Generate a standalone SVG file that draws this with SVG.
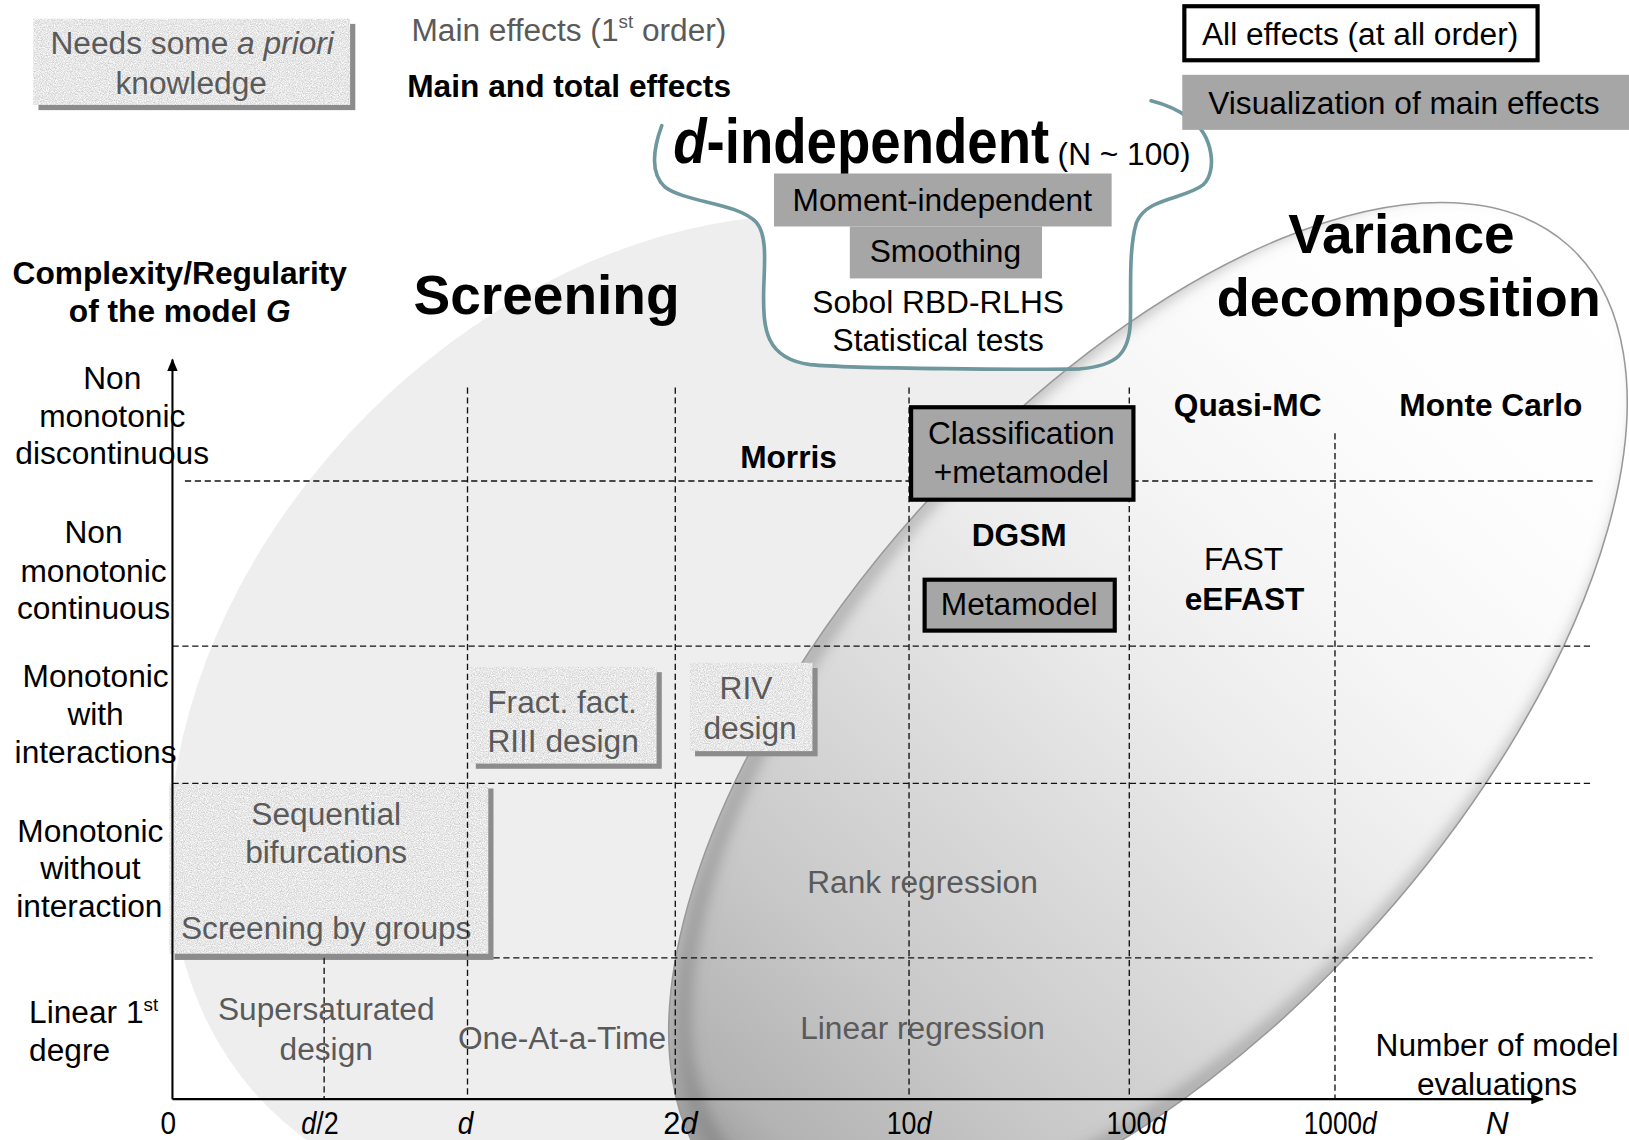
<svg xmlns="http://www.w3.org/2000/svg" width="1629" height="1140" viewBox="0 0 1629 1140">
<style>
text { font-family: "Liberation Sans", Arial, Helvetica, sans-serif; font-size: 30.5px; fill: #000; }
.m { text-anchor: middle; }
.g { fill: #5a5a5a; }
.b { font-weight: bold; }
.i { font-style: italic; }
.s60 { font-size: 60px; }
.s53 { font-size: 53px; }
.s52 { font-size: 52px; }
.sup { font-size: 18px; }
.tick { font-size: 31px; }
.grid { fill: none; stroke: #111; stroke-width: 1.3; stroke-dasharray: 6 3.5; }
.axis { fill: none; stroke: #000; stroke-width: 2; }
.gbox { fill: #a6a6a6; }
.kbox { stroke: #000; stroke-width: 4; }
.shadow { fill: #8c8c8c; }
.tex { fill: #e4e4e4; }
.brace { fill: none; stroke: #6e989e; stroke-width: 3.5; stroke-linecap: round; }
</style>
<defs>
  <filter id="paper" x="0" y="0" width="1" height="1" color-interpolation-filters="sRGB">
    <feTurbulence type="fractalNoise" baseFrequency="0.9" numOctaves="2" seed="7" result="n"/>
    <feColorMatrix in="n" type="matrix" values="0.35 0 0 0 0.73  0.35 0 0 0 0.73  0.35 0 0 0 0.73  0 0 0 0 1" result="gr"/>
    <feComposite in="gr" in2="SourceGraphic" operator="in"/>
  </filter>
  <filter id="soft" x="-20%" y="-20%" width="140%" height="140%">
    <feGaussianBlur stdDeviation="7"/>
  </filter>
  <linearGradient id="vgrad" gradientUnits="userSpaceOnUse" x1="-608" y1="0" x2="608" y2="0">
    <stop offset="0" stop-color="#999999"/>
    <stop offset="0.06" stop-color="#b3b3b3"/>
    <stop offset="0.2" stop-color="#c8c8c8"/>
    <stop offset="0.3" stop-color="#d3d3d3"/>
    <stop offset="0.53" stop-color="#ececec"/>
    <stop offset="0.65" stop-color="#f5f5f5"/>
    <stop offset="0.82" stop-color="#fdfdfd"/>
    <stop offset="1" stop-color="#ffffff"/>
  </linearGradient>
  <clipPath id="vclip">
    <ellipse cx="0" cy="0" rx="608" ry="297" transform="translate(1105 690) rotate(-48.3)"/>
  </clipPath>
  <marker id="arr" viewBox="0 0 12 10" refX="11" refY="5" markerWidth="12" markerHeight="10" markerUnits="userSpaceOnUse" orient="auto">
    <path d="M0,0 L12,5 L0,10 Z" fill="#000"/>
  </marker>
</defs>
<rect width="1629" height="1140" fill="#fff"/>
<g transform="scale(1.0389)">
  <!-- background regions -->
  <g id="screening-region">
    <ellipse cx="0" cy="0" rx="540" ry="404" transform="translate(640 684) rotate(-45)" fill="#eeeeee"/>
  </g>
  <g id="d-independent-fill">
    <path d="M 637 121 C 630 140, 624 165, 640 180 C 660 195, 710 195, 728 214 C 740 228, 735 260, 735 285 C 735 315, 736 345, 780 351 C 820 355, 1000 356, 1040 355 C 1075 352, 1087 340, 1088 310 C 1089 280, 1086 240, 1094 214 C 1104 190, 1140 192, 1158 178 C 1172 165, 1168 130, 1145 114 C 1132 104, 1120 100, 1108 97 Z" fill="#fff"/>
  </g>
  <g id="variance-region">
    <ellipse cx="0" cy="0" rx="608" ry="297" transform="translate(1105 690) rotate(-48.3)" fill="url(#vgrad)"/>
    <g clip-path="url(#vclip)">
      <ellipse cx="0" cy="0" rx="608" ry="297" transform="translate(1119 676) rotate(-48.3)" fill="none" stroke="#6a6a6a" stroke-width="12" stroke-opacity="0.5" filter="url(#soft)"/>
    </g>
    <ellipse cx="0" cy="0" rx="608" ry="297" transform="translate(1105 690) rotate(-48.3)" fill="none" stroke="#999999" stroke-width="1.5"/>
  </g>
  <g id="d-independent-brace">
    <path class="brace" d="M 637 121 C 630 140, 624 165, 640 180 C 660 195, 710 195, 728 214 C 740 228, 735 260, 735 285 C 735 315, 736 345, 780 351 C 820 355, 1000 356, 1040 355 C 1075 352, 1087 340, 1088 310 C 1089 280, 1086 240, 1094 214 C 1104 190, 1140 192, 1158 178 C 1172 165, 1168 130, 1145 114 C 1132 104, 1120 100, 1108 97"/>
  </g>

  <!-- textured (a priori) boxes -->
  <g id="needs-apriori">
    <rect class="shadow" x="37" y="23" width="305" height="83"/>
    <rect class="tex" x="32" y="18" width="305" height="83" filter="url(#paper)"/>
    <text class="m g" x="185" y="52">Needs some <tspan class="i">a priori</tspan></text>
    <text class="m g" x="184" y="90">knowledge</text>
  </g>
  <g id="fract-fact">
    <rect class="shadow" x="458" y="647" width="179" height="93"/>
    <rect class="tex" x="453" y="642" width="179" height="93" filter="url(#paper)"/>
    <text class="m g" x="541" y="686">Fract. fact.</text>
    <text class="m g" x="542" y="724">RIII design</text>
  </g>
  <g id="riv-design">
    <rect class="shadow" x="669" y="643" width="118" height="85"/>
    <rect class="tex" x="664" y="638" width="118" height="85" filter="url(#paper)"/>
    <text class="m g" x="718" y="673">RIV</text>
    <text class="m g" x="722" y="711">design</text>
  </g>
  <g id="sequential">
    <rect class="shadow" x="168" y="759" width="307" height="165"/>
    <rect class="tex" x="163" y="754" width="307" height="164" filter="url(#paper)"/>
    <text class="m g" x="314" y="794">Sequential</text>
    <text class="m g" x="314" y="831">bifurcations</text>
    <text class="m g" x="314" y="904">Screening by groups</text>
  </g>

  <!-- connectors: grid and axes -->
  <g id="connectors">
    <line class="grid" x1="312" y1="922" x2="312" y2="1058"/>
    <line class="grid" x1="450" y1="373" x2="450" y2="1058"/>
    <line class="grid" x1="650" y1="373" x2="650" y2="1058"/>
    <line class="grid" x1="875" y1="373" x2="875" y2="1058"/>
    <line class="grid" x1="1087" y1="373" x2="1087" y2="1058"/>
    <line class="grid" x1="1285" y1="417" x2="1285" y2="1058"/>
    <line class="grid" x1="178" y1="463" x2="1533" y2="463"/>
    <line class="grid" x1="166" y1="622" x2="1533" y2="622"/>
    <line class="grid" x1="166" y1="754" x2="1533" y2="754"/>
    <line class="grid" x1="475" y1="922" x2="1533" y2="922"/>
    <line class="axis" x1="166" y1="1058" x2="166" y2="346" marker-end="url(#arr)"/>
    <line class="axis" x1="166" y1="1058" x2="1485" y2="1058" marker-end="url(#arr)"/>
  </g>

  <!-- legend -->
  <g id="legend-main">
    <text class="g" x="396" y="39">Main effects (1<tspan class="sup" dy="-12">st</tspan><tspan dy="12"> order)</tspan></text>
  </g>
  <g id="legend-total">
    <text class="b" x="392" y="93">Main and total effects</text>
  </g>
  <g id="legend-all">
    <rect class="kbox" x="1140" y="6" width="340" height="52" fill="#fff"/>
    <text x="1157" y="43">All effects (at all order)</text>
  </g>
  <g id="legend-visual">
    <rect class="gbox" x="1138" y="72" width="440" height="53"/>
    <text x="1163" y="110">Visualization of main effects</text>
  </g>

  <!-- d-independent -->
  <g id="d-independent-title">
    <text class="b s60" x="648" y="157" textLength="362" lengthAdjust="spacingAndGlyphs"><tspan class="i">d</tspan>-independent</text>
    <text x="1018" y="159">(N ~ 100)</text>
  </g>
  <g id="moment-independent">
    <rect class="gbox" x="745" y="167" width="325" height="51"/>
    <text class="m" x="907" y="203">Moment-independent</text>
  </g>
  <g id="smoothing">
    <rect class="gbox" x="818" y="218" width="185" height="50"/>
    <text class="m" x="910" y="252">Smoothing</text>
  </g>
  <g id="sobol">
    <text class="m" x="903" y="301">Sobol RBD-RLHS</text>
    <text class="m" x="903" y="338">Statistical tests</text>
  </g>

  <!-- region titles -->
  <g id="title-screening"><text class="b s53" x="398" y="302">Screening</text></g>
  <g id="title-variance">
    <text class="b m s53" x="1349" y="244">Variance</text>
    <text class="b m s52" x="1356" y="304">decomposition</text>
  </g>

  <!-- y axis title and labels -->
  <g id="y-title">
    <text class="b m" x="173" y="273">Complexity/Regularity</text>
    <text class="b m" x="173" y="310">of the model <tspan class="i">G</tspan></text>
  </g>
  <g id="y-nmd">
    <text class="m" x="108" y="374">Non</text>
    <text class="m" x="108" y="411">monotonic</text>
    <text class="m" x="108" y="447">discontinuous</text>
  </g>
  <g id="y-nmc">
    <text class="m" x="90" y="523">Non</text>
    <text class="m" x="90" y="560">monotonic</text>
    <text class="m" x="90" y="596">continuous</text>
  </g>
  <g id="y-mwi">
    <text class="m" x="92" y="661">Monotonic</text>
    <text class="m" x="92" y="698">with</text>
    <text class="m" x="92" y="734">interactions</text>
  </g>
  <g id="y-mwo">
    <text class="m" x="87" y="810">Monotonic</text>
    <text class="m" x="87" y="846">without</text>
    <text class="m" x="86" y="883">interaction</text>
  </g>
  <g id="y-lin">
    <text x="28" y="985">Linear 1<tspan class="sup" dy="-12">st</tspan></text>
    <text x="28" y="1021">degre</text>
  </g>

  <!-- methods -->
  <g id="morris"><text class="b m" x="759" y="450">Morris</text></g>
  <g id="classification">
    <rect class="gbox kbox" x="877" y="392" width="214" height="89"/>
    <text class="m" x="983" y="427">Classification</text>
    <text class="m" x="983" y="465">+metamodel</text>
  </g>
  <g id="dgsm"><text class="b m" x="981" y="526">DGSM</text></g>
  <g id="metamodel">
    <rect class="gbox kbox" x="890" y="558" width="183" height="49"/>
    <text class="m" x="981" y="592">Metamodel</text>
  </g>
  <g id="quasi-mc"><text class="b m" x="1201" y="400">Quasi-MC</text></g>
  <g id="monte-carlo"><text class="b m" x="1435" y="400">Monte Carlo</text></g>
  <g id="fast">
    <text class="m" x="1197" y="549">FAST</text>
    <text class="b m" x="1198" y="587">eEFAST</text>
  </g>
  <g id="supersaturated">
    <text class="m g" x="314" y="982">Supersaturated</text>
    <text class="m g" x="314" y="1020">design</text>
  </g>
  <g id="oat"><text class="m g" x="541" y="1010">One-At-a-Time</text></g>
  <g id="rank-regression"><text class="m g" x="888" y="860">Rank regression</text></g>
  <g id="linear-regression"><text class="m g" x="888" y="1000">Linear regression</text></g>
  <g id="x-title">
    <text class="m" x="1441" y="1016">Number of model</text>
    <text class="m" x="1441" y="1054">evaluations</text>
  </g>

  <!-- x ticks -->
  <g id="x-ticks">
    <text class="tick m" x="162" y="1092" textLength="15" lengthAdjust="spacingAndGlyphs">0</text>
    <text class="tick m" x="308" y="1092" textLength="36" lengthAdjust="spacingAndGlyphs"><tspan class="i">d</tspan>/2</text>
    <text class="tick m i" x="448" y="1092" textLength="15" lengthAdjust="spacingAndGlyphs">d</text>
    <text class="tick m" x="655" y="1092" textLength="33" lengthAdjust="spacingAndGlyphs">2<tspan class="i">d</tspan></text>
    <text class="tick m" x="875" y="1092" textLength="43" lengthAdjust="spacingAndGlyphs">10<tspan class="i">d</tspan></text>
    <text class="tick m" x="1094" y="1092" textLength="58" lengthAdjust="spacingAndGlyphs">100<tspan class="i">d</tspan></text>
    <text class="tick m" x="1290" y="1092" textLength="70" lengthAdjust="spacingAndGlyphs">1000<tspan class="i">d</tspan></text>
    <text class="tick m i" x="1441" y="1092" textLength="22" lengthAdjust="spacingAndGlyphs">N</text>
  </g>
</g>
</svg>
